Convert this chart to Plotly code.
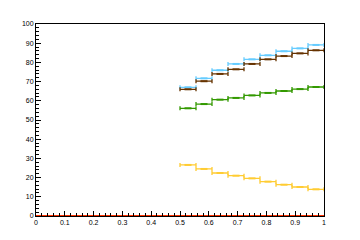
import plotly.graph_objects as go

bin_lo = 0.5
bin_hi = 1.0
n_bins = 9
blue = [67.0, 71.7, 75.9, 79.2, 81.6, 83.7, 85.8, 87.3, 89.1]
brown = [66.0, 70.2, 74.0, 76.4, 79.2, 81.6, 83.3, 84.7, 86.3]
green = [56.1, 58.3, 60.6, 61.5, 62.8, 64.1, 65.1, 66.1, 67.2]
yellow = [26.6, 24.5, 22.4, 21.0, 19.6, 17.9, 16.3, 15.1, 13.9]
baseline_x = [0.0, 1.0]
baseline_y = [0.0, 0.0]

w = (bin_hi - bin_lo) / n_bins
centers = [bin_lo + w * (i + 0.5) for i in range(n_bins)]

fig = go.Figure()
series = [(blue, "#66ccff"), (brown, "#663300"), (green, "#339900"), (yellow, "#ffcc33")]
for vals, col in series:
    fig.add_trace(go.Scatter(
        x=centers, y=vals, mode="markers",
        marker=dict(symbol="line-ew", size=5, line=dict(width=2, color=col), color=col),
        error_x=dict(type="constant", value=w / 2, color=col, thickness=1.3, width=2),
        showlegend=False, cliponaxis=False))

fig.add_trace(go.Scatter(x=baseline_x, y=baseline_y, mode="lines",
                         line=dict(color="#ff3300", width=2), showlegend=False, cliponaxis=False))

font = dict(family="Liberation Sans, Arial, sans-serif", size=7, color="black")
fig.update_layout(
    width=360, height=240, margin=dict(l=36, r=36, t=24, b=24),
    plot_bgcolor="white", paper_bgcolor="white",
    xaxis=dict(range=[0, 1], tickvals=[i / 10 for i in range(11)],
               ticktext=["0", "0.1", "0.2", "0.3", "0.4", "0.5", "0.6", "0.7", "0.8", "0.9", "1"],
               ticks="inside", ticklen=5, tickcolor="black", tickwidth=1,
               minor=dict(dtick=0.02, ticks="inside", ticklen=3, tickcolor="black"),
               showline=True, linecolor="black", linewidth=1, mirror=True,
               showgrid=False, zeroline=False, tickfont=font),
    yaxis=dict(range=[0, 100], dtick=10, ticks="inside", ticklen=5, tickcolor="black",
               minor=dict(dtick=2, ticks="inside", ticklen=3, tickcolor="black"),
               showline=True, linecolor="black", linewidth=1, mirror=True,
               showgrid=False, zeroline=False, tickfont=font),
)
fig.write_html("out.html")
